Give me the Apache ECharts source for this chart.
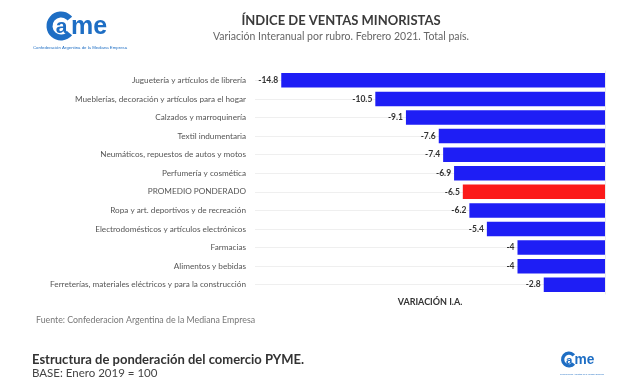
<!DOCTYPE html>
<html>
<head>
<meta charset="utf-8">
<script src="https://cdn.jsdelivr.net/npm/echarts@6/dist/echarts.min.js"></script>
<style>html,body{margin:0;padding:0;background:#fff}#c{width:640px;height:386px}</style>
</head>
<body>
<div id="c"></div>
<script>
const categories = [
  'Juguetería y artículos de librería',
  'Mueblerías, decoración y artículos para el hogar',
  'Calzados y marroquinería',
  'Textil indumentaria',
  'Neumáticos, repuestos de autos y motos',
  'Perfumería y cosmética',
  'PROMEDIO PONDERADO',
  'Ropa y art. deportivos y de recreación',
  'Electrodomésticos y artículos electrónicos',
  'Farmacias',
  'Alimentos y bebidas',
  'Ferreterías, materiales eléctricos y para la construcción'
];
const values = [-14.8, -10.5, -9.1, -7.6, -7.4, -6.9, -6.5, -6.2, -5.4, -4, -4, -2.8];
const highlightCategory = 'PROMEDIO PONDERADO';
const axisName = 'VARIACIÓN I.A.';
const mainTitle = 'ÍNDICE DE VENTAS MINORISTAS';
const subTitle = 'Variación Interanual por rubro. Febrero 2021. Total país.';
const sourceText = 'Fuente: Confederacion Argentina de la Mediana Empresa';
const footTitle = 'Estructura de ponderación del comercio PYME.';
const footSub = 'BASE: Enero 2019 = 100';
const logoSmall = 'Confederación Argentina de la Mediana Empresa';

const FONT = 'Lato';
const BLUE = '#1e1ef5';
const RED = '#fb1a1a';
const LOGO = '#1e6ec4';

function logo(cx, cy, s) {
  return [
    { type: 'arc', shape: { cx: cx, cy: cy, r: 11.5 * s, startAngle: 0.7, endAngle: Math.PI * 2 - 0.7 },
      style: { stroke: LOGO, lineWidth: 6 * s, fill: null } },
    { type: 'text', x: cx + 0.5 * s, y: cy + 1.5 * s,
      style: { text: 'a', font: 'bold ' + (21 * s) + 'px "Liberation Sans"', fill: LOGO, align: 'center', verticalAlign: 'middle' } },
    { type: 'text', x: cx + 10 * s, y: cy + 1 * s,
      style: { text: 'me', font: 'bold ' + (25 * s) + 'px "Liberation Sans"', fill: LOGO, align: 'left', verticalAlign: 'middle' } }
  ];
}

const chart = echarts.init(document.getElementById('c'), null, { renderer: 'canvas' });
chart.setOption({
  backgroundColor: '#ffffff',
  animation: false,
  title: [
    { text: mainTitle, left: 336, top: 9, textAlign: 'center',
      textStyle: { fontFamily: FONT, fontSize: 13, fontWeight: 'bold', color: '#3a3a3a' } },
    { text: subTitle, left: 336, top: 26, textAlign: 'center',
      textStyle: { fontFamily: FONT, fontSize: 10.5, fontWeight: 'normal', color: '#666' } },
    { text: sourceText, left: 31, top: 311,
      textStyle: { fontFamily: FONT, fontSize: 8.8, fontWeight: 'normal', color: '#777' } },
    { text: footTitle, left: 27, top: 348,
      textStyle: { fontFamily: FONT, fontSize: 13, fontWeight: 'bold', color: '#333' } },
    { text: footSub, left: 27, top: 362,
      textStyle: { fontFamily: FONT, fontSize: 11.5, fontWeight: 'normal', color: '#444' } }
  ],
  grid: { left: 255, right: 35, top: 71, bottom: 92, containLabel: false },
  xAxis: {
    type: 'value', min: -16, max: 0,
    axisLabel: { show: false }, axisLine: { show: false }, axisTick: { show: false }, splitLine: { show: false },
    name: axisName, nameLocation: 'middle', nameGap: 4,
    nameTextStyle: { fontFamily: FONT, fontSize: 9, fontWeight: 'bold', color: '#333', verticalAlign: 'top' }
  },
  yAxis: {
    type: 'category', inverse: true, data: categories,
    axisLine: { show: true, lineStyle: { color: '#ececec' } },
    axisTick: { show: false },
    axisLabel: { margin: 9, fontFamily: FONT, fontSize: 8.2, color: '#555' }
  },
  series: [{
    type: 'bar', z: 2,
    barWidth: 14.5,
    data: values.map((v, i) => ({ value: v, itemStyle: { color: categories[i] === highlightCategory ? RED : BLUE } })),
    label: { show: true, position: 'left', distance: 3, fontFamily: FONT, fontSize: 8.5, fontWeight: 'bold', color: '#333',
      formatter: p => String(p.value) },
    emphasis: { disabled: true },
    markLine: {
      z: 1, silent: true, symbol: 'none', label: { show: false },
      lineStyle: { color: '#efefef', width: 1, type: 'solid' },
      data: categories.map(c => ({ yAxis: c }))
    }
  }],
  graphic: [
    ...logo(61, 26, 1),
    { type: 'text', x: 80, y: 48, style: { text: logoSmall, font: '4.3px "Liberation Sans"', fill: LOGO, align: 'center', verticalAlign: 'middle' } },
    ...logo(569, 359.5, 0.55),
    { type: 'text', x: 582, y: 374, style: { text: logoSmall, font: '2px "Liberation Sans"', fill: LOGO, align: 'center', verticalAlign: 'middle' } }
  ]
});
</script>
</body>
</html>
